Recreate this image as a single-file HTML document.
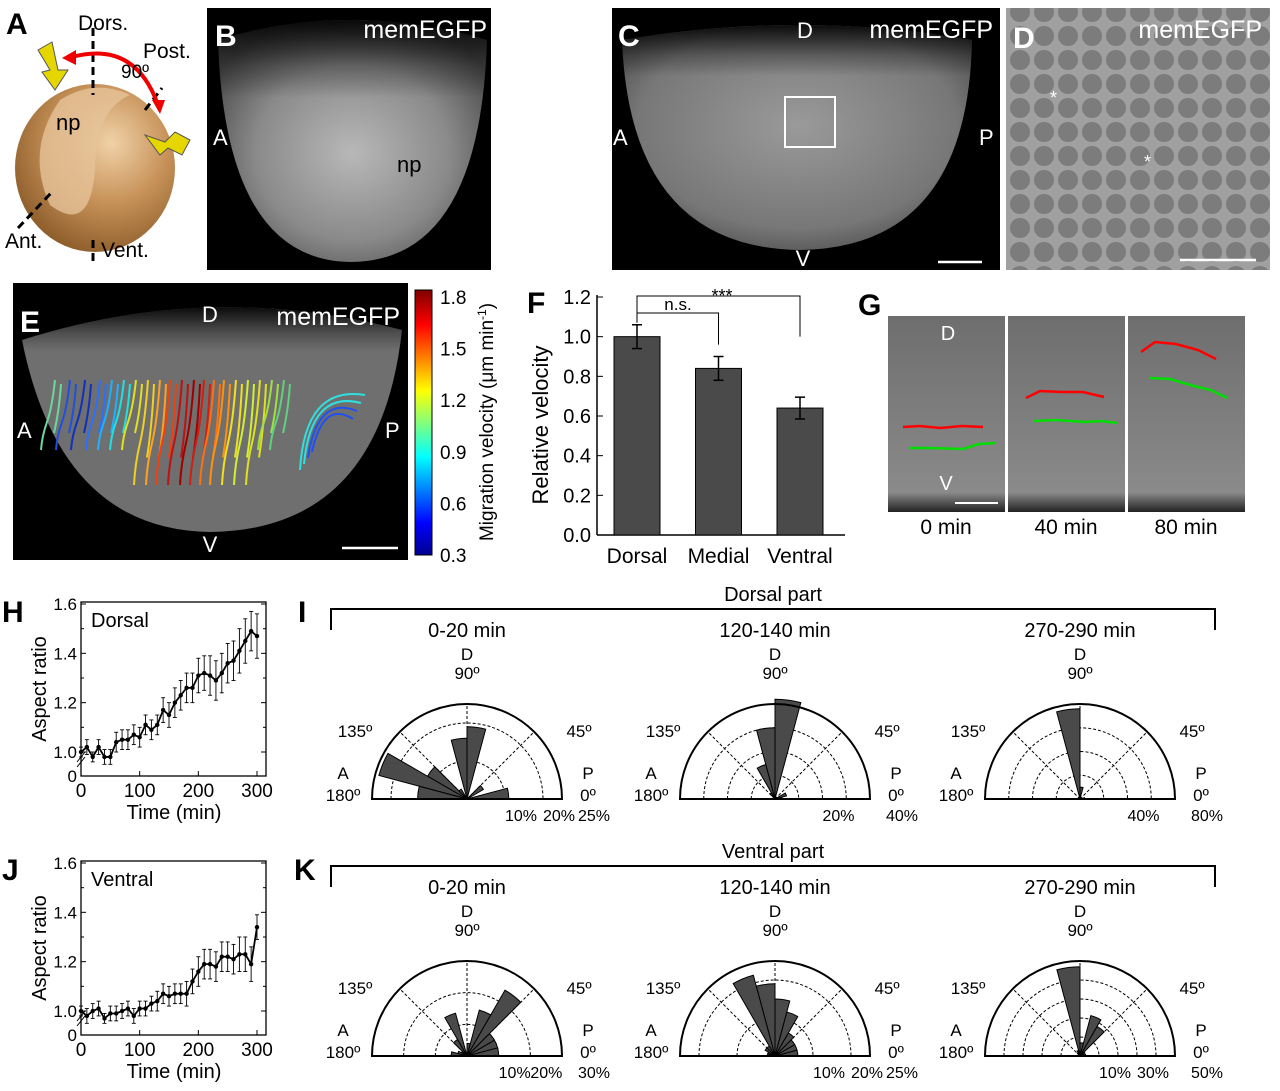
<!DOCTYPE html>
<html><head><meta charset="utf-8"><style>
html,body{margin:0;padding:0;background:#fff}
svg{display:block;font-family:"Liberation Sans",Arial,sans-serif}
</style></head><body>
<svg id="fig" width="1280" height="1091" viewBox="0 0 1280 1091" xmlns="http://www.w3.org/2000/svg">
<defs>
<radialGradient id="embB" cx="0.5" cy="0.55" r="0.6"><stop offset="0" stop-color="#b8b8b8"/><stop offset="0.6" stop-color="#8a8a8a"/><stop offset="1" stop-color="#4a4a4a"/></radialGradient>
<linearGradient id="topfade" x1="0" y1="0" x2="0" y2="1"><stop offset="0" stop-color="#000" stop-opacity="0.9"/><stop offset="0.35" stop-color="#000" stop-opacity="0.3"/><stop offset="0.6" stop-color="#000" stop-opacity="0"/></linearGradient>
<radialGradient id="embC" cx="0.5" cy="0.45" r="0.65"><stop offset="0" stop-color="#9a9a9a"/><stop offset="0.7" stop-color="#777"/><stop offset="1" stop-color="#444"/></radialGradient>
<radialGradient id="ball" cx="0.6" cy="0.35" r="0.7"><stop offset="0" stop-color="#f0d2a8"/><stop offset="0.5" stop-color="#c8935a"/><stop offset="1" stop-color="#8a5a28"/></radialGradient>
<linearGradient id="jet" x1="0" y1="1" x2="0" y2="0"><stop offset="0" stop-color="#00008f"/><stop offset="0.12" stop-color="#0000ff"/><stop offset="0.37" stop-color="#00ffff"/><stop offset="0.62" stop-color="#ffff00"/><stop offset="0.87" stop-color="#ff0000"/><stop offset="1" stop-color="#800000"/></linearGradient>
<pattern id="cells" width="24" height="24" patternUnits="userSpaceOnUse"><rect width="24" height="24" fill="#a0a0a0"/><circle cx="12" cy="12" r="10" fill="#7c7c7c"/></pattern>
<linearGradient id="gpan" x1="0" y1="0" x2="0" y2="1"><stop offset="0" stop-color="#6e6e6e"/><stop offset="0.9" stop-color="#8a8a8a"/><stop offset="1" stop-color="#222"/></linearGradient>
</defs>

<g>
<text x="6" y="34" font-size="30" font-weight="bold">A</text>
<ellipse cx="95" cy="168" rx="80" ry="84" fill="url(#ball)"/>
<path d="M60,100 Q95,78 130,95 Q95,110 95,170 Q90,235 50,205 Q25,150 60,100Z" fill="#e6c39a" opacity="0.8"/>
<text x="56" y="130" font-size="22">np</text>
<line x1="93" y1="28" x2="93" y2="95" stroke="#000" stroke-width="3" stroke-dasharray="8,5"/>
<line x1="93" y1="240" x2="93" y2="265" stroke="#000" stroke-width="3" stroke-dasharray="8,5"/>
<line x1="18" y1="228" x2="52" y2="192" stroke="#000" stroke-width="3" stroke-dasharray="8,5"/>
<line x1="145" y1="110" x2="162" y2="88" stroke="#000" stroke-width="3" stroke-dasharray="8,5"/>
<path d="M72,57 Q135,40 158,105" fill="none" stroke="#e00" stroke-width="4"/>
<polygon points="62,58 76,50 76,65" fill="#e00"/><polygon points="152,100 165,100 160,114" fill="#e00"/>
<polygon points="38,50 52,42 58,70 68,70 55,90 42,72 50,70" fill="#e6d600" stroke="#555"/>
<polygon points="190,140 175,132 165,142 145,135 160,155 168,148 182,155" fill="#e6d600" stroke="#555"/>
<text x="78" y="30" font-size="21">Dors.</text>
<text x="143" y="58" font-size="21">Post.</text>
<text x="121" y="78" font-size="19">90º</text>
<text x="5" y="248" font-size="21">Ant.</text>
<text x="101" y="257" font-size="21">Vent.</text>
</g>

<g>
<rect x="207" y="8" width="284" height="262" fill="#000"/>
<path d="M218,40 Q225,260 350,262 Q480,262 487,40 Q350,0 218,40Z" fill="url(#embB)"/>
<path d="M218,40 Q350,0 487,40 L487,150 Q350,60 218,150Z" fill="url(#topfade)"/>
<text x="215" y="46" font-size="30" font-weight="bold" fill="#fff">B</text>
<text x="487" y="38" font-size="25" fill="#fff" text-anchor="end">memEGFP</text>
<text x="213" y="145" font-size="22" fill="#fff">A</text>
<text x="581" y="145" font-size="22" fill="#fff">P</text>
<text x="397" y="172" font-size="22" fill="#000">np</text>
<line x1="548" y1="260" x2="592" y2="260" stroke="#fff" stroke-width="2.5"/>
</g>

<g>
<rect x="612" y="8" width="388" height="262" fill="#000"/>
<path d="M622,40 Q630,248 800,250 Q968,248 972,40 Q800,10 622,40Z" fill="url(#embC)"/>
<path d="M622,40 Q800,10 972,40 L972,110 Q800,50 622,110Z" fill="url(#topfade)"/>
<text x="618" y="46" font-size="30" font-weight="bold" fill="#fff">C</text>
<text x="805" y="38" font-size="22" fill="#fff" text-anchor="middle">D</text>
<text x="993" y="38" font-size="25" fill="#fff" text-anchor="end">memEGFP</text>
<text x="613" y="145" font-size="22" fill="#fff">A</text>
<text x="979" y="145" font-size="22" fill="#fff">P</text>
<text x="803" y="266" font-size="22" fill="#fff" text-anchor="middle">V</text>
<rect x="785" y="97" width="50" height="50" fill="none" stroke="#fff" stroke-width="2"/>
<line x1="938" y1="262" x2="982" y2="262" stroke="#fff" stroke-width="2.5"/>
</g>

<g>
<rect x="1006" y="8" width="264" height="262" fill="url(#cells)"/>
<text x="1013" y="48" font-size="30" font-weight="bold" fill="#fff">D</text>
<text x="1262" y="38" font-size="25" fill="#fff" text-anchor="end">memEGFP</text>
<text x="1050" y="104" font-size="18" fill="#fff">*</text>
<text x="1144" y="168" font-size="18" fill="#fff">*</text>
<line x1="1180" y1="260" x2="1256" y2="260" stroke="#fff" stroke-width="2.5"/>
</g>

<g>
<rect x="13" y="283" width="395" height="277" fill="#000"/>
<path d="M22,340 Q60,530 210,532 Q380,530 402,330 Q210,280 22,340Z" fill="#6f6f6f"/>
<path d="M22,340 Q210,280 402,330 L402,380 Q210,330 22,380Z" fill="url(#topfade)"/>
<g id="tracks"></g>
<text x="20" y="332" font-size="30" font-weight="bold" fill="#fff">E</text>
<text x="210" y="322" font-size="22" fill="#fff" text-anchor="middle">D</text>
<text x="400" y="325" font-size="25" fill="#fff" text-anchor="end">memEGFP</text>
<text x="17" y="438" font-size="22" fill="#fff">A</text>
<text x="385" y="438" font-size="22" fill="#fff">P</text>
<text x="210" y="552" font-size="22" fill="#fff" text-anchor="middle">V</text>
<line x1="342" y1="548" x2="398" y2="548" stroke="#fff" stroke-width="2.5"/>
<rect x="415" y="290" width="17" height="265" fill="url(#jet)" stroke="#000" stroke-width="1"/>
<g id="cbticks" font-size="19"></g>
<text transform="translate(493,422) rotate(-90)" font-size="19" text-anchor="middle">Migration velocity (μm min<tspan font-size="12" dy="-7">-1</tspan><tspan dy="7">)</tspan></text>
</g>

<g id="panelF">
<text x="527" y="313" font-size="30" font-weight="bold">F</text>
</g>

<g>
<text x="858" y="315" font-size="30" font-weight="bold">G</text>
<rect x="888" y="316" width="117" height="196" fill="url(#gpan)"/>
<rect x="1008" y="316" width="117" height="196" fill="url(#gpan)"/>
<rect x="1128" y="316" width="117" height="196" fill="url(#gpan)"/>
<text x="948" y="340" font-size="20" fill="#fff" text-anchor="middle">D</text>
<text x="946" y="490" font-size="20" fill="#fff" text-anchor="middle">V</text>
<line x1="955" y1="503" x2="998" y2="503" stroke="#fff" stroke-width="2"/>
<polyline points="903,427 920,426 940,428 962,426 983,427" fill="none" stroke="#f00" stroke-width="2.5"/>
<polyline points="910,448 931,448 963,449 979,444 996,443" fill="none" stroke="#0d0" stroke-width="2.5"/>
<polyline points="1026,398 1040,391 1062,392 1083,392 1104,397" fill="none" stroke="#f00" stroke-width="2.5"/>
<polyline points="1033,421 1056,420 1085,422 1101,421 1117,423" fill="none" stroke="#0d0" stroke-width="2.5"/>
<polyline points="1141,352 1155,342 1176,344 1198,350 1216,359" fill="none" stroke="#f00" stroke-width="2.5"/>
<polyline points="1149,378 1170,379 1194,386 1211,390 1227,398" fill="none" stroke="#0d0" stroke-width="2.5"/>
<text x="946" y="534" font-size="21" text-anchor="middle">0 min</text>
<text x="1066" y="534" font-size="21" text-anchor="middle">40 min</text>
<text x="1186" y="534" font-size="21" text-anchor="middle">80 min</text>
</g>

<g id="panelH"><text x="2" y="622" font-size="30" font-weight="bold">H</text></g>
<g id="panelJ"><text x="2" y="880" font-size="30" font-weight="bold">J</text></g>
<g id="panelI"><text x="298" y="622" font-size="30" font-weight="bold">I</text></g>
<g id="panelK"><text x="294" y="880" font-size="30" font-weight="bold">K</text></g>
</svg>
<script>
const fCategories = ["Dorsal","Medial","Ventral"];
const fValues = [1.0, 0.84, 0.64];
const fErrors = [0.06, 0.06, 0.055];
const fTicks = [0.0,0.2,0.4,0.6,0.8,1.0,1.2];
const timeMin = [0,10,20,30,40,50,60,70,80,90,100,110,120,130,140,150,160,170,180,190,200,210,220,230,240,250,260,270,280,290,300];
const dorsalAR = [1.00,1.02,0.98,1.02,0.98,0.98,1.04,1.05,1.05,1.07,1.06,1.11,1.09,1.11,1.17,1.15,1.20,1.23,1.26,1.26,1.31,1.32,1.31,1.29,1.32,1.36,1.37,1.41,1.45,1.49,1.47];
const dorsalErr = [0.02,0.03,0.02,0.03,0.03,0.03,0.04,0.04,0.04,0.04,0.04,0.04,0.04,0.04,0.05,0.05,0.06,0.06,0.06,0.06,0.07,0.07,0.08,0.08,0.08,0.08,0.08,0.09,0.09,0.08,0.09];
const ventralAR = [1.00,0.98,1.00,1.01,0.97,0.99,0.99,1.00,1.01,0.98,1.01,1.01,1.03,1.04,1.07,1.06,1.07,1.07,1.07,1.12,1.16,1.19,1.19,1.18,1.22,1.22,1.21,1.23,1.23,1.19,1.34];
const ventralErr = [0.02,0.03,0.03,0.03,0.02,0.03,0.03,0.03,0.03,0.03,0.03,0.03,0.03,0.04,0.04,0.04,0.04,0.04,0.05,0.05,0.06,0.06,0.06,0.06,0.06,0.06,0.06,0.07,0.07,0.07,0.05];
const arTicks = [1.0,1.2,1.4,1.6];
const timeTicks = [0,100,200,300];
const roseTitles = ["0-20 min","120-140 min","270-290 min"];
const dorsalRose0 = [11,0,5,0,0,19,16,0,3,12,24,13];
const dorsalRose120 = [3,5,0,0,0,42,30,15,3,0,0,0];
const dorsalRose270 = [4,0,0,0,0,10,76,0,0,0,0,0];
const ventralRose0 = [10,10,10,24,15,4,0,14,6,2,3,5];
const ventralRose120 = [6,6,6,7,12,15,19,22,3,3,2,2];
const ventralRose270 = [3,2,3,18,22,7,47,3,2,0,0,0];
const dorsalMax = [25,40,80];
const ventralMax = [30,25,50];
const dorsalRings = [[10,20],[10,20,30],[20,40,60]];
const ventralRings = [[10,20],[10,20],[10,20,30,40]];
const dorsalTickVals = [[10,20,25],[20,40],[40,80]];
const ventralTickVals = [[10,20,30],[10,20,25],[10,30,50]];
const cbLabels = ["1.8","1.5","1.2","0.9","0.6","0.3"];

const NS="http://www.w3.org/2000/svg";
function mk(tag,attrs,parent,txt){const e=document.createElementNS(NS,tag);for(const k in attrs)e.setAttribute(k,attrs[k]);if(txt!==undefined)e.textContent=txt;parent.appendChild(e);return e;}

const cb=document.getElementById('cbticks');
cbLabels.forEach((l,i)=>{const t=mk('text',{x:440,y:304+i*51.6},cb,l);

});

const trackX=[55,70,85,100,112,124,136,148,160,170,182,194,204,214,224,236,248,260,272,284];
const trackCol=["#6cd6a0","#1e50e0","#1030c0","#2a70ff","#20b0ff","#20e0e0","#e0e020","#f0d020","#ffa020","#f04010","#c01010","#a00000","#d02010","#ff7010","#ff9010","#f0e020","#d0f030","#e0e020","#a0e040","#60d080"];
const tr=document.getElementById('tracks');
trackX.forEach((x,i)=>{const len=70+ (i>6&&i<18?35:0);const y0=380;
const p=mk('path',{d:`M${x},${y0} q${-3},${len*0.4} ${-8},${len*0.6} t${-6},${len*0.4}`,fill:'none',stroke:trackCol[i],'stroke-width':2},tr);


const p2=mk('path',{d:`M${x+6},${y0+4} q${-2},${len*0.4} ${-7},${len*0.7}`,fill:'none',stroke:trackCol[i],'stroke-width':2},tr);

});
[0,1,2,3].forEach(k=>{const p=mk('path',{d:`M${300+k*4},${470-k*6} Q${305+k*6},${385+k*5} ${365-k*4},${395+k*8}`,fill:'none',stroke:k<2?'#30e0e0':'#2050f0','stroke-width':2},tr);

});

(function(){const g=document.getElementById('panelF');
const x0=597,y0=535,yTop=297,yMax=1.2;const ys=v=>y0-(v/yMax)*(y0-yTop);
const cx=i=>637+i*81.5;
mk('line',{x1:x0,y1:yTop-2,x2:x0,y2:y0,stroke:'#000','stroke-width':1.5},g);
mk('line',{x1:x0,y1:y0,x2:845,y2:y0,stroke:'#000','stroke-width':1.5},g);
fTicks.forEach(t=>{mk('line',{x1:x0,y1:ys(t),x2:x0+6,y2:ys(t),stroke:'#000'},g);
const l=mk('text',{x:x0-6,y:ys(t)+7,'font-size':20,'text-anchor':'end'},g,t.toFixed(1));

});
fValues.forEach((v,i)=>{const b=mk('rect',{x:cx(i)-23,y:ys(v),width:46,height:y0-ys(v),fill:'#4a4a4a',stroke:'#000'},g);


const e=fErrors[i];mk('line',{x1:cx(i),y1:ys(v+e),x2:cx(i),y2:ys(v-e),stroke:'#000','stroke-width':1.5},g);
mk('line',{x1:cx(i)-5,y1:ys(v+e),x2:cx(i)+5,y2:ys(v+e),stroke:'#000','stroke-width':1.5},g);
mk('line',{x1:cx(i)-5,y1:ys(v-e),x2:cx(i)+5,y2:ys(v-e),stroke:'#000','stroke-width':1.5},g);
const l=mk('text',{x:cx(i),y:563,'font-size':21,'text-anchor':'middle'},g,fCategories[i]);

});
mk('polyline',{points:`${cx(0)},${ys(1.07)} ${cx(0)},296 ${cx(2)},296 ${cx(2)},${ys(1.0)}`,fill:'none',stroke:'#000'},g);
mk('polyline',{points:`${cx(0)},313 ${cx(1)},313 ${cx(1)},${ys(0.96)}`,fill:'none',stroke:'#000'},g);
mk('text',{x:678,y:310,'font-size':17,'text-anchor':'middle'},g,'n.s.');
mk('text',{x:722,y:302,'font-size':18,'text-anchor':'middle'},g,'***');
const yt=mk('text',{transform:'translate(548,425) rotate(-90)','font-size':22,'text-anchor':'middle'},g,'Relative velocity');

})();

function lineChart(id,yTop,vals,errs,label){const g=document.getElementById(id);
const L=81,R=266,Y0=yTop+174;const xs=t=>L+(t/300)*176;
const ys=v=>v<=0?yTop+174:(yTop+150)-((v-1.0)/0.6)*148;
mk('rect',{x:L,y:yTop,width:R-L,height:174,fill:'none',stroke:'#000','stroke-width':1.3},g);
arTicks.forEach(t=>{mk('line',{x1:L,y1:ys(t),x2:L+5,y2:ys(t),stroke:'#000'},g);mk('line',{x1:R,y1:ys(t),x2:R-5,y2:ys(t),stroke:'#000'},g);
const l=mk('text',{x:L-4,y:ys(t)+6,'font-size':17,'text-anchor':'end'},g,t.toFixed(1));

});
[1.1,1.3,1.5].forEach(t=>{mk('line',{x1:L,y1:ys(t),x2:L+3,y2:ys(t),stroke:'#000'},g);mk('line',{x1:R,y1:ys(t),x2:R-3,y2:ys(t),stroke:'#000'},g);});
mk('text',{x:L-4,y:Y0+6,'font-size':17,'text-anchor':'end'},g,'0');
mk('line',{x1:L-4,y1:Y0-14,x2:L+4,y2:Y0-24,stroke:'#000'},g);mk('line',{x1:L-4,y1:Y0-9,x2:L+4,y2:Y0-19,stroke:'#000'},g);
timeTicks.forEach(t=>{mk('line',{x1:xs(t),y1:Y0,x2:xs(t),y2:Y0-5,stroke:'#000'},g);
const l=mk('text',{x:xs(t),y:Y0+21,'font-size':19,'text-anchor':'middle'},g,String(t));

});
mk('text',{x:174,y:Y0+43,'font-size':20,'text-anchor':'middle'},g,'Time (min)');
mk('text',{transform:`translate(46,${yTop+87}) rotate(-90)`,'font-size':20,'text-anchor':'middle'},g,'Aspect ratio');
mk('text',{x:91,y:yTop+25,'font-size':20},g,label);
const pts=vals.map((v,i)=>xs(timeMin[i])+','+ys(v)).join(' ');
const ln=mk('polyline',{points:pts,fill:'none',stroke:'#000','stroke-width':1.8},g);


vals.forEach((v,i)=>{const x=xs(timeMin[i]);mk('line',{x1:x,y1:ys(v+errs[i]),x2:x,y2:ys(v-errs[i]),stroke:'#000','stroke-width':0.9},g);
mk('line',{x1:x-2,y1:ys(v+errs[i]),x2:x+2,y2:ys(v+errs[i]),stroke:'#000','stroke-width':0.9},g);
mk('line',{x1:x-2,y1:ys(v-errs[i]),x2:x+2,y2:ys(v-errs[i]),stroke:'#000','stroke-width':0.9},g);
const c=mk('circle',{cx:x,cy:ys(v),r:2.2,fill:'#000'},g);

});}
lineChart('panelH',602,dorsalAR,dorsalErr,'Dorsal');
lineChart('panelJ',861,ventralAR,ventralErr,'Ventral');

function rose(g,cx,cy,data,max,rings,tickVals,title){const R=95;const rs=v=>(v/max)*R;
const P=(r,a)=>[cx+r*Math.cos(a*Math.PI/180),cy-r*Math.sin(a*Math.PI/180)];
mk('text',{x:cx,y:cy-162,'font-size':20,'text-anchor':'middle'},g,title);
mk('text',{x:cx,y:cy-139,'font-size':17,'text-anchor':'middle'},g,'D');
mk('text',{x:cx,y:cy-120,'font-size':17,'text-anchor':'middle'},g,'90º');
mk('text',{x:cx-112,y:cy-62,'font-size':17,'text-anchor':'middle'},g,'135º');
mk('text',{x:cx+112,y:cy-62,'font-size':17,'text-anchor':'middle'},g,'45º');
mk('text',{x:cx-124,y:cy-20,'font-size':17,'text-anchor':'middle'},g,'A');
mk('text',{x:cx-124,y:cy+2,'font-size':17,'text-anchor':'middle'},g,'180º');
mk('text',{x:cx+121,y:cy-20,'font-size':17,'text-anchor':'middle'},g,'P');
mk('text',{x:cx+121,y:cy+2,'font-size':17,'text-anchor':'middle'},g,'0º');
rings.forEach(v=>{const r=rs(v);mk('path',{d:`M${cx-r},${cy} A${r},${r} 0 0 1 ${cx+r},${cy}`,fill:'none',stroke:'#000','stroke-width':1,'stroke-dasharray':'3,2'},g);});
[45,90,135].forEach(a=>{const p=P(R,a);mk('line',{x1:cx,y1:cy,x2:p[0],y2:p[1],stroke:'#000','stroke-width':1,'stroke-dasharray':'3,2'},g);});
data.forEach((v,i)=>{if(v<=0)return;const r=rs(v),a1=i*15,a2=a1+15;const p1=P(r,a1),p2=P(r,a2);
const w=mk('path',{d:`M${cx},${cy} L${p1[0]},${p1[1]} A${r},${r} 0 0 0 ${p2[0]},${p2[1]} Z`,fill:'#4a4a4a',stroke:'#000','stroke-width':1},g);

});
mk('path',{d:`M${cx-R},${cy} A${R},${R} 0 0 1 ${cx+R},${cy} Z`,fill:'none',stroke:'#000','stroke-width':2},g);
tickVals.forEach((v,i)=>{const last=(i===tickVals.length-1);const x=last?cx+R+32:cx+rs(v)+16;
const t=mk('text',{x:x,y:cy+22,'font-size':16,'text-anchor':'middle'},g,v+'%');

});}
function roseRow(id,top,title,sets,maxes,rings,tickVals){const g=document.getElementById(id);
mk('polyline',{points:`331,${top+21} 331,${top} 1215,${top} 1215,${top+21}`,fill:'none',stroke:'#000','stroke-width':2},g);
mk('text',{x:773,y:top-8,'font-size':20,'text-anchor':'middle'},g,title);
[467,775,1080].forEach((cx,i)=>rose(g,cx,top+190,sets[i],maxes[i],rings[i],tickVals[i],roseTitles[i]));}
roseRow('panelI',609,'Dorsal part',[dorsalRose0,dorsalRose120,dorsalRose270],dorsalMax,dorsalRings,dorsalTickVals);
roseRow('panelK',866,'Ventral part',[ventralRose0,ventralRose120,ventralRose270],ventralMax,ventralRings,ventralTickVals);
</script>
</body></html>
